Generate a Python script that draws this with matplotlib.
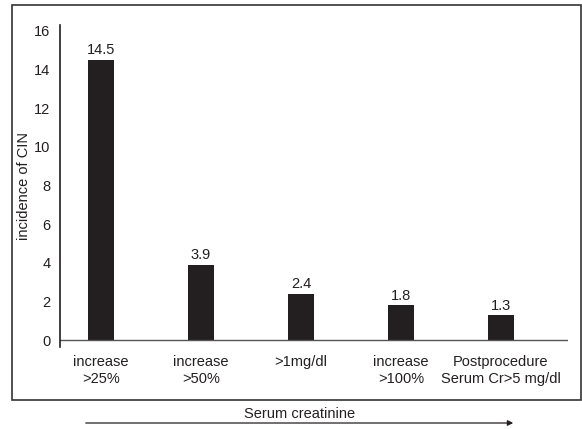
import matplotlib
import matplotlib.pyplot as plt
from matplotlib.patches import Rectangle, FancyArrowPatch

matplotlib.use("Agg")

categories = [
    "increase\n>25%",
    "increase\n>50%",
    ">1mg/dl",
    "increase\n>100%",
    "Postprocedure\nSerum Cr>5 mg/dl",
]
values = [14.5, 3.9, 2.4, 1.8, 1.3]
value_labels = ["14.5", "3.9", "2.4", "1.8", "1.3"]
yticks = [0, 2, 4, 6, 8, 10, 12, 14, 16]

plt.rcParams["font.family"] = ["Liberation Sans Narrow", "Liberation Sans", "DejaVu Sans"]
ink = "#231f20"
fs = 10.5

fig = plt.figure(figsize=(5.82, 4.29), dpi=100)
W, H = 582, 429

# outer frame
fig.patches.append(Rectangle((12 / W, 1 - 400 / H), 569 / W, 395 / H,
                             transform=fig.transFigure, fill=False,
                             edgecolor="#333333", linewidth=1.2))

ax = fig.add_axes([60 / W, 1 - 347 / H, 508 / W, 322 / H])
ax.set_facecolor("none")
x = list(range(len(categories)))
ax.bar(x, values, width=0.26, color=ink)
for xi, v, lab in zip(x, values, value_labels):
    ax.text(xi, v + 0.12, lab, ha="center", va="bottom", fontsize=fs, color=ink)

ax.set_xlim(-0.41, 4.67)
ax.set_ylim(-0.35, 16.3)
ax.axhline(0, color="#555555", linewidth=1.0)
ax.set_yticks(yticks)
ax.set_xticks(x)
ax.set_xticklabels(categories, fontsize=fs, color=ink, linespacing=1.25)
ax.tick_params(axis="y", length=0, pad=7, labelsize=fs, colors=ink)
ax.tick_params(axis="x", length=0, pad=6)
for side in ["top", "right", "bottom"]:
    ax.spines[side].set_visible(False)
ax.spines["left"].set_color(ink)
ax.spines["left"].set_linewidth(1.2)
ax.set_ylabel("incidence of CIN", fontsize=fs, color=ink, labelpad=2)

# serum creatinine arrow below the frame
fig.text(300 / W, 1 - 414 / H, "Serum creatinine", ha="center", va="center",
         fontsize=fs, color=ink)
fig.add_artist(FancyArrowPatch(
    (83 / W, 1 - 423 / H), (516 / W, 1 - 423 / H),
    transform=fig.transFigure, arrowstyle="-|>", mutation_scale=8,
    color=ink, linewidth=0.9))

fig.savefig("out.png", dpi=100)
